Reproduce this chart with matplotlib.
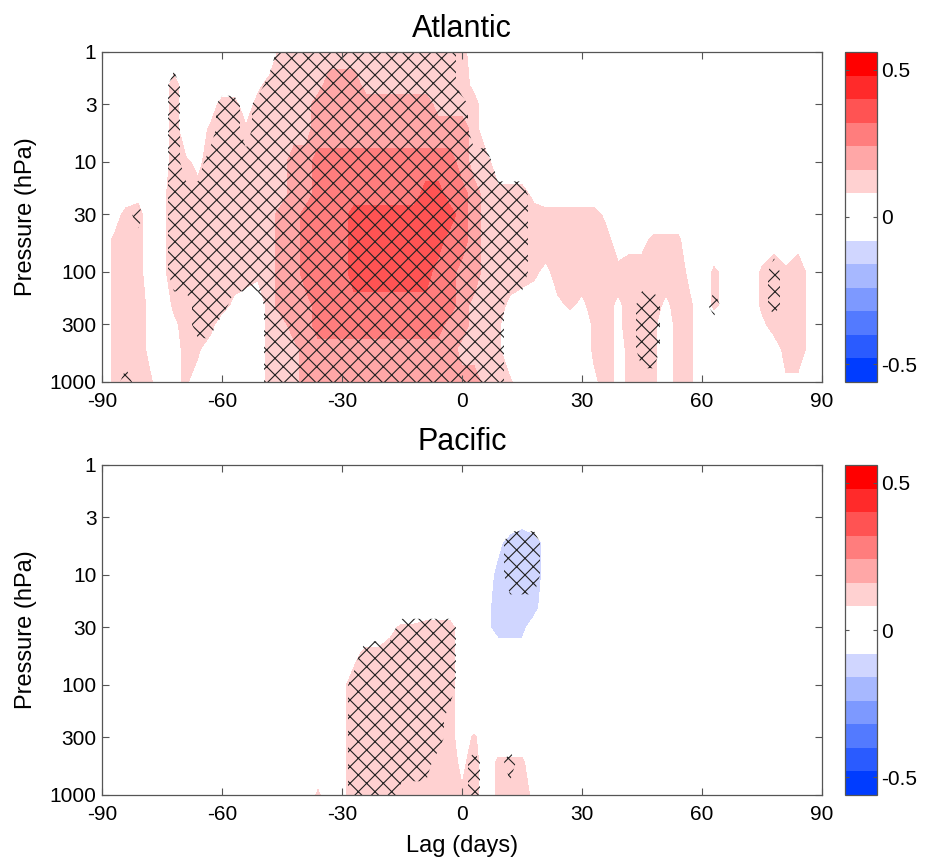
import numpy as np
import matplotlib
matplotlib.use('Agg')
import matplotlib.pyplot as plt
from matplotlib.ticker import NullLocator

plt.rcParams['font.family'] = ['Liberation Sans', 'DejaVu Sans']
plt.rcParams['axes.unicode_minus'] = False
plt.rcParams['hatch.color'] = '#222222'
plt.rcParams['hatch.linewidth'] = 0.8

# ---------------- data ----------------
lags = np.arange(-90, 91, 3)
pressure = np.array([1, 2, 3, 5, 10, 20, 30, 50, 100, 200, 300, 500, 1000])

# value codes (one char per pressure level, top -> bottom)
code_values = {'0': 0.0, '1': 0.05, '2': 0.10, '3': 0.13, '4': 0.20,
               '5': 0.28, '6': 0.36, 'a': -0.13, 'b': -0.05}

atlantic_values = {
    -87: "0000000222222", -84: "0000003333333", -81: "0000013333333",
    -78: "0000000001112", -75: "0000011110000", -72: "0333333332111",
    -69: "0000233333322", -66: "0000133333320", -63: "0002333333300",
    -60: "0033333333000", -57: "0033333331000", -54: "0002333330000",
    -51: "0133333320000", -48: "0333333333333", -45: "3333334444333",
    -42: "3333444444433", -39: "3333445554444", -36: "3344555555544",
    -33: "3444555555544", -30: "3444555555544", -27: "3444556665544",
    -24: "3344556665544", -21: "3344556665544", -18: "3344556665544",
    -15: "3344556665544", -12: "3344556665544", -9: "3344566665544",
    -6: "3334566655544", -3: "3334556555444", 0: "3334455544434",
    3: "0133344443334", 6: "0000333333333", 9: "0000033333223",
    12: "0000033331002", 15: "0000033330000", 18: "0000013320000",
    21: "0000003310000", 24: "0000003331000", 27: "0000003332000",
    30: "0000003331000", 33: "0000003333221", 36: "0000001333333",
    39: "0000000031111", 42: "0000000133322", 45: "0000000133333",
    48: "0000000233222", 51: "0000000231000", 54: "0000000233333",
    57: "0000000012222", 63: "0000000022000", 66: "0000000011000",
    75: "0000000022100", 78: "0000000133300", 81: "0000000023331",
    84: "0000000133331", 87: "0000000011110",
}

atlantic_significant = {
    -84: "0000000000001", -81: "0000001000000", -72: "0111111110000",
    -69: "0000011110000", -66: "0000011111100", -63: "0000111111100",
    -60: "0011111111000", -57: "0011111110000", -54: "0000111110000",
    -51: "0011111110000", -48: "0111111111111", -45: "1111111111111",
    -42: "1111111111111", -39: "1111111111111", -36: "1111111111111",
    -33: "1111111111111", -30: "1111111111111", -27: "1111111111111",
    -24: "1111111111111", -21: "1111111111111", -18: "1111111111111",
    -15: "1111111111111", -12: "1111111111111", -9: "1111111111111",
    -6: "1111111111111", -3: "1111111111111", 0: "0011111111111",
    3: "0000111111111", 6: "0000111111111", 9: "0000011111111",
    12: "0000011110000", 15: "0000011110000", 45: "0000000001110",
    48: "0000000001110", 63: "0000000001000", 78: "0000000011000",
}

pacific_values = {
    -36: "0000000000002", -30: "0000000011111", -27: "0000000133333",
    -24: "0000000233333", -21: "0000000233333", -18: "0000001333333",
    -15: "0000002333333", -12: "0000002333333", -9: "0000003333333",
    -6: "0000003333333", -3: "0000003333333", 0: "0000000000012",
    3: "0000000000233", 6: "00000bb000000", 9: "000baaa000022",
    12: "000aaaa000022", 15: "00baaaa000023", 18: "000aaa0000001",
    21: "000bb00000000",
}

pacific_significant = {
    -27: "0000000011111", -24: "0000000111111", -21: "0000000111111",
    -18: "0000000111111", -15: "0000001111110", -12: "0000001111110",
    -9: "0000001111110", -6: "0000001111100", -3: "0000001110000",
    3: "0000000000011", 12: "0001100000010", 15: "0001100000000",
    18: "0001100000000",
}

levels = np.round(np.arange(-0.56, 0.561, 0.08), 2)
band_colors = ['#003cff', '#2a5bff', '#537aff', '#7d99ff', '#a7b8ff', '#d0d6ff',
               '#ffffff', '#ffffff',
               '#ffd1d1', '#ffa7a7', '#ff7d7d', '#ff5353', '#ff2a2a', '#ff0000']
cb_ticks = [-0.5, 0, 0.5]
cb_ticklabels = ['-0.5', '0', '0.5']
xticks = [-90, -60, -30, 0, 30, 60, 90]
yticks = [1, 3, 10, 30, 100, 300, 1000]


def build(cols, default='0000000000000', mapping=None):
    grid = np.zeros((len(pressure), len(lags)))
    for j, lag in enumerate(lags):
        s = cols.get(int(lag), default)
        for i, ch in enumerate(s):
            grid[i, j] = mapping[ch] if mapping else float(ch)
    return grid


fig = plt.figure(figsize=(9.28, 8.6), dpi=100)
W, H = 928.0, 860.0
spine_col = '#555555'

panels = [
    ('Atlantic', atlantic_values, atlantic_significant, 382),
    ('Pacific', pacific_values, pacific_significant, 795),
]
for title, vals, sig, ybot in panels:
    ax = fig.add_axes([102 / W, 1 - ybot / H, 720 / W, 330 / H])
    cax = fig.add_axes([845 / W, 1 - ybot / H, 32 / W, 330 / H])
    Z = build(vals, mapping=code_values)
    M = build(sig)
    cf = ax.contourf(lags, pressure, Z, levels=levels, colors=band_colors)
    ax.contourf(lags, pressure, M, levels=[0.5, 1.5], colors='none',
                hatches=['xx'])
    ax.set_yscale('log')
    ax.set_xlim(-90, 90)
    ax.set_ylim(1000, 1)
    ax.set_xticks(xticks)
    ax.set_xticklabels([str(t) for t in xticks])
    ax.set_yticks(yticks)
    ax.set_yticklabels([str(t) for t in yticks])
    ax.yaxis.set_minor_locator(NullLocator())
    ax.tick_params(direction='in', top=True, right=True, length=5, width=0.8,
                   color=spine_col, labelsize=15)
    ax.tick_params(axis='x', pad=7)
    ax.tick_params(axis='y', pad=4)
    for sp in ax.spines.values():
        sp.set_color(spine_col)
        sp.set_linewidth(0.9)
    ax.set_ylabel('Pressure (hPa)', fontsize=17, labelpad=9)
    ax.set_title(title, fontsize=22, pad=11)

    cb = fig.colorbar(cf, cax=cax, ticks=cb_ticks)
    cb.ax.set_yticklabels(cb_ticklabels)
    cb.ax.tick_params(direction='in', left=True, right=True, length=3,
                      width=0.8, color=spine_col, labelsize=15, pad=3)
    cb.outline.set_edgecolor(spine_col)
    cb.outline.set_linewidth(0.9)
    last_ax = ax

last_ax.set_xlabel('Lag (days)', fontsize=17, labelpad=8)

fig.savefig('out.png', dpi=100)
